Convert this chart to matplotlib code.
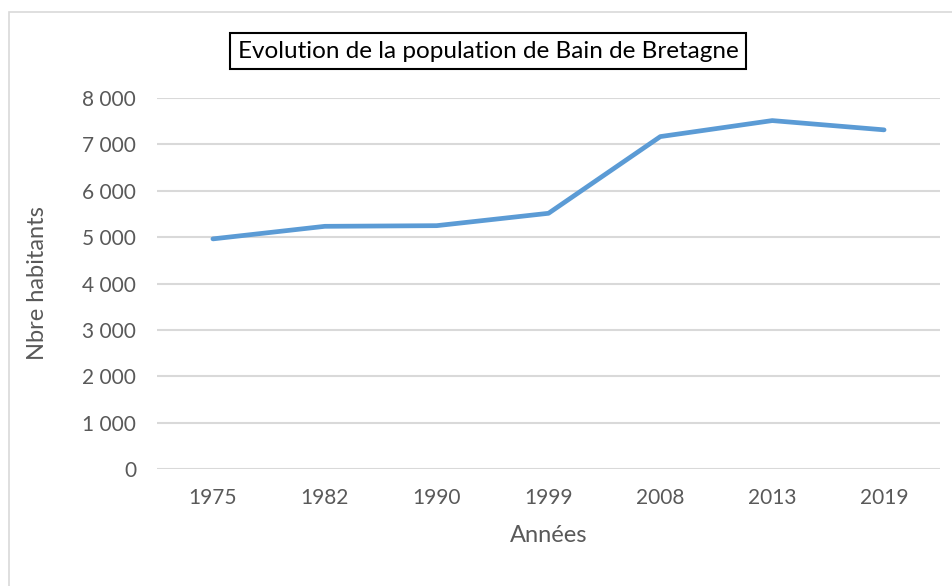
import matplotlib
matplotlib.use("Agg")
import matplotlib.pyplot as plt
from matplotlib.patches import Rectangle
from matplotlib.ticker import FuncFormatter, MultipleLocator

years = ["1975", "1982", "1990", "1999", "2008", "2013", "2019"]
population = [4962, 5233, 5247, 5514, 7168, 7513, 7313]

W, H = 953, 586
fig = plt.figure(figsize=(W / 100, H / 100), dpi=100)
plt.rcParams['font.family'] = ['Lato', 'DejaVu Sans']

# outer chart frame
fig.patches.append(Rectangle((9 / W, -0.1), 1.2, 1 - 12 / H + 0.1, transform=fig.transFigure,
                             fill=False, edgecolor='#D9D9D9', linewidth=1.2))

left, right, top, bottom = 157, 940, 98, 469
ax = fig.add_axes([left / W, 1 - bottom / H, (right - left) / W, (bottom - top) / H])

x = list(range(len(years)))
ax.plot(x, population, color='#5B9BD5', linewidth=3.4, solid_capstyle='round', solid_joinstyle='round', zorder=3)
ax.set_xlim(-0.5, len(years) - 0.5)
ax.set_ylim(0, 8000)
ax.yaxis.set_major_locator(MultipleLocator(1000))
ax.yaxis.set_major_formatter(FuncFormatter(lambda v, p: f"{int(v):,}".replace(",", " ")))
ax.set_xticks(x)
ax.set_xticklabels(years)
ax.grid(axis='y', color='#D9D9D9', linewidth=1.5)
ax.set_axisbelow(True)
for s in ax.spines.values():
    s.set_visible(False)
ax.tick_params(length=0, labelsize=15, colors='#595959')
ax.tick_params(axis='y', pad=15)
ax.tick_params(axis='x', pad=14)
ax.set_xlabel("Années", fontsize=17, color='#595959', labelpad=12)
ax.set_ylabel("Nbre habitants", fontsize=17, color='#595959', labelpad=25)

fig.text(488 / W, 1 - 51 / H, "Evolution de la population de Bain de Bretagne", ha='center', va='center',
         fontsize=17.5, color='black',
         bbox=dict(boxstyle='square,pad=0.32', facecolor='white', edgecolor='black', linewidth=1.5))

fig.savefig("out.png", dpi=100)
